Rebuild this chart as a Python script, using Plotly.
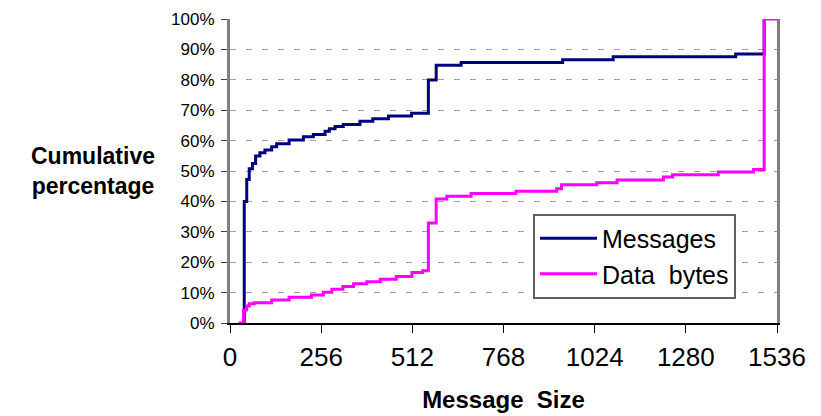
import plotly.graph_objects as go

# Message size (bytes) where each step begins, and cumulative percentage
msg_size = [40, 40, 47, 54, 63, 72, 84, 98, 117, 131, 166, 206, 234, 267, 279, 295, 318,
            365, 401, 445, 510, 557, 579, 649, 934, 1076, 1420, 1500]
msg_pct = [0, 40, 47.2, 50.7, 52.5, 54.9, 56, 56.9, 58, 59, 60.2, 61.3, 62, 63.1, 63.9, 64.6, 65.3,
           66.4, 67.2, 68.1, 69, 79.9, 84.8, 85.7, 86.6, 87.6, 88.5, 100]

byte_size = [24, 38, 47, 54, 68, 117, 166, 229, 262, 286, 317, 347, 384, 422, 467, 511, 541,
             557, 579, 609, 677, 803, 917, 931, 1030, 1087, 1217, 1243, 1371, 1470, 1500, 1536]
byte_pct = [0, 4.3, 5.6, 6.3, 6.7, 7.6, 8.5, 9.2, 10.1, 11.1, 12, 12.9, 13.6, 14.4, 15.3, 16.6, 17.2,
            32.9, 40.8, 41.7, 42.6, 43.3, 44.2, 45.5, 46.1, 47, 48, 48.8, 49.7, 50.5, 100, 100]

x_ticks = [0, 256, 512, 768, 1024, 1280, 1536]
y_ticks = [0, 10, 20, 30, 40, 50, 60, 70, 80, 90, 100]

FONT = "Liberation Sans, Arial, sans-serif"

fig = go.Figure()
fig.add_trace(go.Scatter(x=msg_size, y=msg_pct, mode="lines", name="Messages",
                         line=dict(color="#000080", width=3, shape="hv")))
fig.add_trace(go.Scatter(x=byte_size, y=byte_pct, mode="lines", name="Data  bytes",
                         line=dict(color="#FF00FF", width=3, shape="hv")))

fig.update_layout(
    width=821, height=416,
    margin=dict(l=230, r=44, t=19, b=93, autoexpand=False),
    paper_bgcolor="white", plot_bgcolor="white",
    font=dict(family=FONT, color="black"),
    showlegend=True,
    legend=dict(x=0.554, y=0.36, xanchor="left", yanchor="top",
                bordercolor="#606060", borderwidth=2, bgcolor="white",
                font=dict(size=25, family=FONT), itemwidth=57,
                tracegroupgap=0),
    xaxis=dict(range=[0, 1536], tickvals=x_ticks, ticktext=[str(v) for v in x_ticks],
               automargin=False,
               showgrid=False, zeroline=False, showline=True, linecolor="black", linewidth=2,
               ticks="outside", ticklen=8, tickcolor="black", tickwidth=1,
               tickfont=dict(size=26, family=FONT), ticklabelstandoff=2,
               title=dict(text="<b>Message  Size</b>", font=dict(size=24, family=FONT), standoff=20)),
    yaxis=dict(range=[0, 100], tickvals=y_ticks, ticktext=[f"{v}%" for v in y_ticks],
               automargin=False,
               showgrid=True, gridcolor="#a0a0a0", gridwidth=1, griddash="6px,10px",
               zeroline=False, showline=True, linecolor="#808080", linewidth=3, mirror=True,
               ticks="outside", ticklen=6, tickcolor="#404040", tickwidth=1,
               tickfont=dict(size=17, family=FONT), ticklabelstandoff=3),
    annotations=[dict(text="<b>Cumulative<br>percentage</b>", xref="paper", yref="paper",
                      x=-0.2505, y=0.5, xanchor="center", yanchor="middle", showarrow=False,
                      font=dict(size=23, family=FONT))],
)

fig.write_html("out.html", config={"displayModeBar": False},
               post_script="document.body.style.margin='0';document.body.style.overflow='hidden';")
